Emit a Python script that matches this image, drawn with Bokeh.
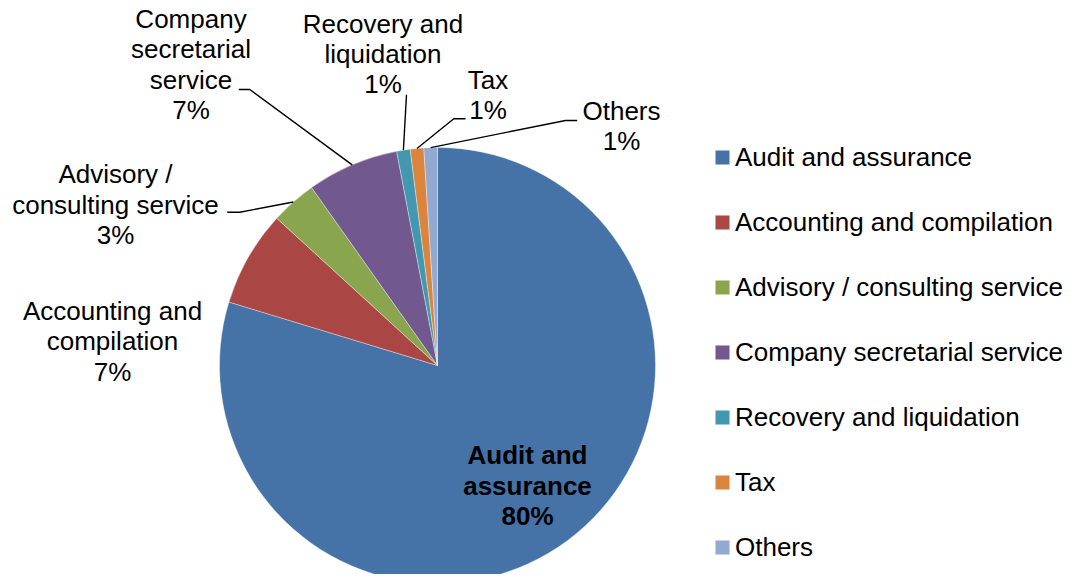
import math
from bokeh.plotting import figure
from bokeh.models import Range1d, Legend, LegendItem, ColumnDataSource
from bokeh.core.properties import value
from bokeh.embed import file_html
from bokeh.resources import INLINE

# ---- data ----
categories = ["Audit and assurance", "Accounting and compilation",
              "Advisory / consulting service", "Company secretarial service",
              "Recovery and liquidation", "Tax", "Others"]
shares = [79.7, 7.1, 3.4, 6.8, 1.0, 1.0, 1.0]
label_lines = [["Audit and", "assurance"], ["Accounting and", "compilation"],
               ["Advisory /", "consulting service"], ["Company", "secretarial", "service"],
               ["Recovery and", "liquidation"], ["Tax"], ["Others"]]

# ---- styles / layout ----
colors = ["#4572A7", "#AA4643", "#89A54E", "#71588F", "#4198AF", "#DB843D", "#93A9CF"]
FONT = "Liberation Sans"
FS = "26px"
PITCH = 30.3
TEXT_DY = -9.5
W, H = 1067, 574
CX, CY, R = 437, 365, 218          # pie centre / radius in page pixels
# label anchor (centre x, first baseline y) in page pixels
label_pos = [(527, 464.3), (112, 320), (115, 183.3), (190.5, 28),
             (382.5, 32.7), (487.5, 89), (621, 120)]
# leader-line start points near the label (page pixels), None = no leader
leader_start = [None, None, [(226.7, 211.7), (239.3, 211.7)],
                [(238.3, 89), (249.3, 89)], [(406, 94.3)],
                [(465, 118.3), (453.3, 118.3)], [(576.7, 120), (565, 120)]]


def Y(py):
    return H - py


p = figure(width=W, height=H, x_range=Range1d(0, W), y_range=Range1d(0, H),
           output_backend="svg", toolbar_location=None, min_border=0)
p.axis.visible = False
p.grid.visible = False
p.outline_line_color = None
p.background_fill_color = "white"

total = sum(shares)
starts, ends, mids = [], [], []
cum = 0.0
for v in shares:
    a0 = math.pi / 2 - 2 * math.pi * cum / total
    cum += v
    a1 = math.pi / 2 - 2 * math.pi * cum / total
    starts.append(a0)
    ends.append(a1)
    mids.append((a0 + a1) / 2)

src = ColumnDataSource(dict(start=starts, end=ends, color=colors, cat=categories))
wr = p.wedge(x=CX, y=Y(CY), radius=R, start_angle="start", end_angle="end",
             direction="clock", fill_color="color", line_color="white",
             line_width=0.6, line_alpha=0.6, source=src)

# leader lines
for i, pts in enumerate(leader_start):
    if pts is None:
        continue
    ex = CX + R * math.cos(mids[i])
    ey = Y(CY) + R * math.sin(mids[i])
    xs = [q[0] for q in pts] + [ex]
    ys = [Y(q[1]) for q in pts] + [ey]
    p.line(xs, ys, line_color="black", line_width=1.4)

# data labels
for i, (lx, ly) in enumerate(label_pos):
    lines = label_lines[i] + [f"{round(shares[i])}%"]
    xs = [lx] * len(lines)
    ys = [Y(ly + TEXT_DY + k * PITCH) for k in range(len(lines))]
    p.text(xs, ys, text=lines, text_font=value(FONT), text_font_size=FS,
           text_align="center", text_baseline="alphabetic", text_color="black",
           text_font_style="bold" if i == 0 else "normal")

legend = Legend(items=[LegendItem(label=c, renderers=[wr], index=i)
                       for i, c in enumerate(categories)],
                location=(713, 10.7), orientation="vertical",
                label_text_font=FONT, label_text_font_size=FS,
                label_text_color="black", glyph_width=18, glyph_height=18,
                label_height=32, label_standoff=4, spacing=33,
                padding=0, margin=0, border_line_color=None,
                background_fill_alpha=0)
p.add_layout(legend)

open("out.html", "w").write(file_html(p, INLINE))
